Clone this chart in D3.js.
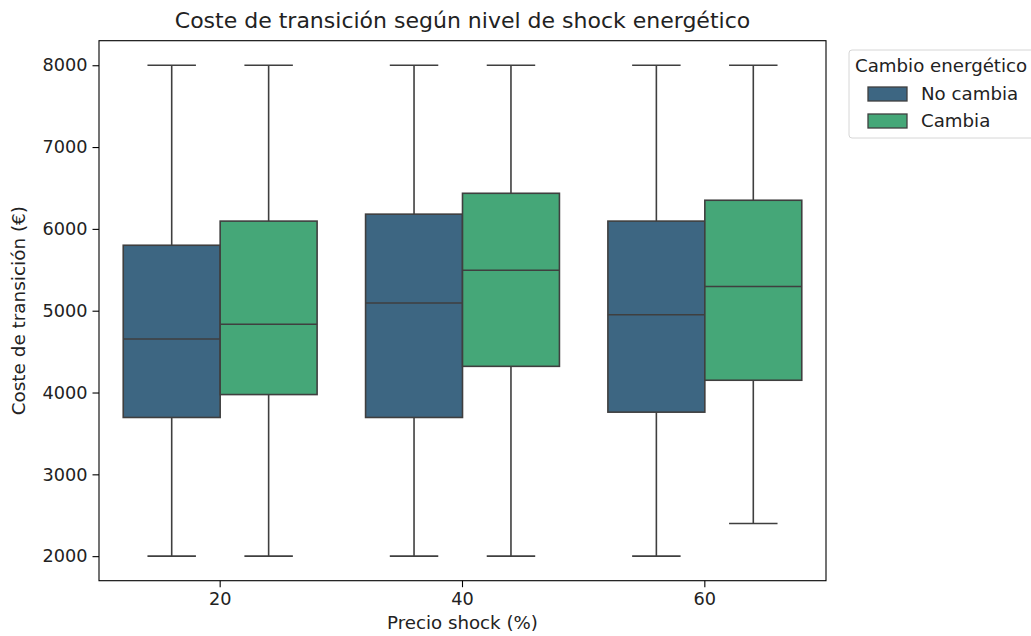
<!DOCTYPE html>
<html>
<head>
<meta charset="utf-8">
<script src="https://cdn.jsdelivr.net/npm/d3@7"></script>
<style>
  body { margin: 0; background: #fff; }
  svg text { font-family: "DejaVu Sans", sans-serif; fill: #222; }
</style>
</head>
<body>
<svg id="chart" width="1031" height="636"></svg>
<script>
// data
var shocks = ["20", "40", "60"];
var groups = ["No cambia", "Cambia"];
var wMin   = [[2000, 2000], [2000, 2000], [2000, 2400]];
var q1     = [[3695, 3975], [3695, 4320], [3760, 4150]];
var median = [[4655, 4835], [5095, 5495], [4950, 5295]];
var q3     = [[5800, 6095], [6180, 6435], [6095, 6350]];
var wMax   = [[8000, 8000], [8000, 8000], [8000, 8000]];
var yTicks = [2000, 3000, 4000, 5000, 6000, 7000, 8000];
var colors = ["#3d6682", "#45a778"];

var margin = {top: 40.7, left: 99, right: 205, bottom: 55.3};
var W = 1031, H = 636;
var svg = d3.select("#chart");

var x = d3.scaleBand().domain(shocks).range([margin.left, W - margin.right]);
var y = d3.scaleLinear().domain([1700, 8300]).range([H - margin.bottom, margin.top]);
var sub = d3.scaleBand().domain(groups).range([0, x.bandwidth() * 0.8]);
var lineColor = "#3f3f3f";

// boxes
var boxes = [];
shocks.forEach(function(s, i) {
  groups.forEach(function(g, j) {
    boxes.push({s: s, g: g, j: j, lo: wMin[i][j], q1: q1[i][j], med: median[i][j], q3: q3[i][j], hi: wMax[i][j]});
  });
});

var bx = svg.append("g").selectAll("g").data(boxes).enter().append("g")
  .attr("transform", function(d) {
    return "translate(" + (x(d.s) + x.bandwidth() * 0.1 + sub(d.g)) + ",0)";
  });
var bw = sub.bandwidth();

// whiskers
bx.append("line").attr("x1", bw / 2).attr("x2", bw / 2)
  .attr("y1", function(d) { return y(d.q3); }).attr("y2", function(d) { return y(d.hi); })
  .attr("stroke", lineColor).attr("stroke-width", 1.6);
bx.append("line").attr("x1", bw / 2).attr("x2", bw / 2)
  .attr("y1", function(d) { return y(d.q1); }).attr("y2", function(d) { return y(d.lo); })
  .attr("stroke", lineColor).attr("stroke-width", 1.6);
// caps
[function(d) { return y(d.hi); }, function(d) { return y(d.lo); }].forEach(function(f) {
  bx.append("line").attr("x1", bw / 4).attr("x2", bw * 3 / 4)
    .attr("y1", f).attr("y2", f)
    .attr("stroke", lineColor).attr("stroke-width", 1.6);
});
bx.append("rect").attr("x", 0).attr("width", bw)
  .attr("y", function(d) { return y(d.q3); })
  .attr("height", function(d) { return y(d.q1) - y(d.q3); })
  .attr("fill", function(d) { return colors[d.j]; })
  .attr("stroke", lineColor).attr("stroke-width", 1.6);
bx.append("line").attr("x1", 0).attr("x2", bw)
  .attr("y1", function(d) { return y(d.med); }).attr("y2", function(d) { return y(d.med); })
  .attr("stroke", lineColor).attr("stroke-width", 1.6);

// axes
var xAxis = svg.append("g")
  .attr("transform", "translate(0," + (H - margin.bottom) + ")")
  .call(d3.axisBottom(x).tickSize(6.5).tickPadding(5));
var yAxis = svg.append("g")
  .attr("transform", "translate(" + margin.left + ",0)")
  .call(d3.axisLeft(y).tickValues(yTicks).tickFormat(d3.format("d")).tickSize(6.5).tickPadding(5));
[xAxis, yAxis].forEach(function(a) {
  a.select(".domain").remove();
  a.selectAll("line").attr("stroke", "#000").attr("stroke-width", 1.1);
  a.selectAll("text").style("font-size", "17.7px").attr("fill", "#222");
});

// frame
svg.append("rect")
  .attr("x", margin.left).attr("y", margin.top)
  .attr("width", W - margin.right - margin.left)
  .attr("height", H - margin.bottom - margin.top)
  .attr("fill", "none").attr("stroke", "#000").attr("stroke-width", 1.1);

// title and labels
var cx = (margin.left + W - margin.right) / 2;
svg.append("text").attr("x", cx).attr("y", 28).attr("text-anchor", "middle")
  .style("font-size", "22px").text("Coste de transición según nivel de shock energético");
svg.append("text").attr("x", cx).attr("y", 629).attr("text-anchor", "middle")
  .style("font-size", "18.2px").text("Precio shock (%)");
svg.append("text").attr("transform", "translate(25," + ((margin.top + H - margin.bottom) / 2) + ") rotate(-90)")
  .attr("text-anchor", "middle").style("font-size", "18.4px").text("Coste de transición (€)");

// legend
var lg = svg.append("g").attr("transform", "translate(849,50)");
lg.append("rect").attr("x", 0).attr("y", 0).attr("width", 200).attr("height", 88).attr("rx", 3)
  .attr("fill", "#fff").attr("stroke", "#d6d6d6").attr("stroke-width", 1);
lg.append("text").attr("x", 6).attr("y", 22).style("font-size", "18.2px").text("Cambio energético");
groups.forEach(function(g, j) {
  var yy = 37 + j * 27;
  lg.append("rect").attr("x", 19).attr("y", yy).attr("width", 39).attr("height", 14)
    .attr("fill", colors[j]).attr("stroke", lineColor).attr("stroke-width", 1.3);
  lg.append("text").attr("x", 72).attr("y", yy + 13).style("font-size", "18.2px").text(g);
});
</script>
</body>
</html>
